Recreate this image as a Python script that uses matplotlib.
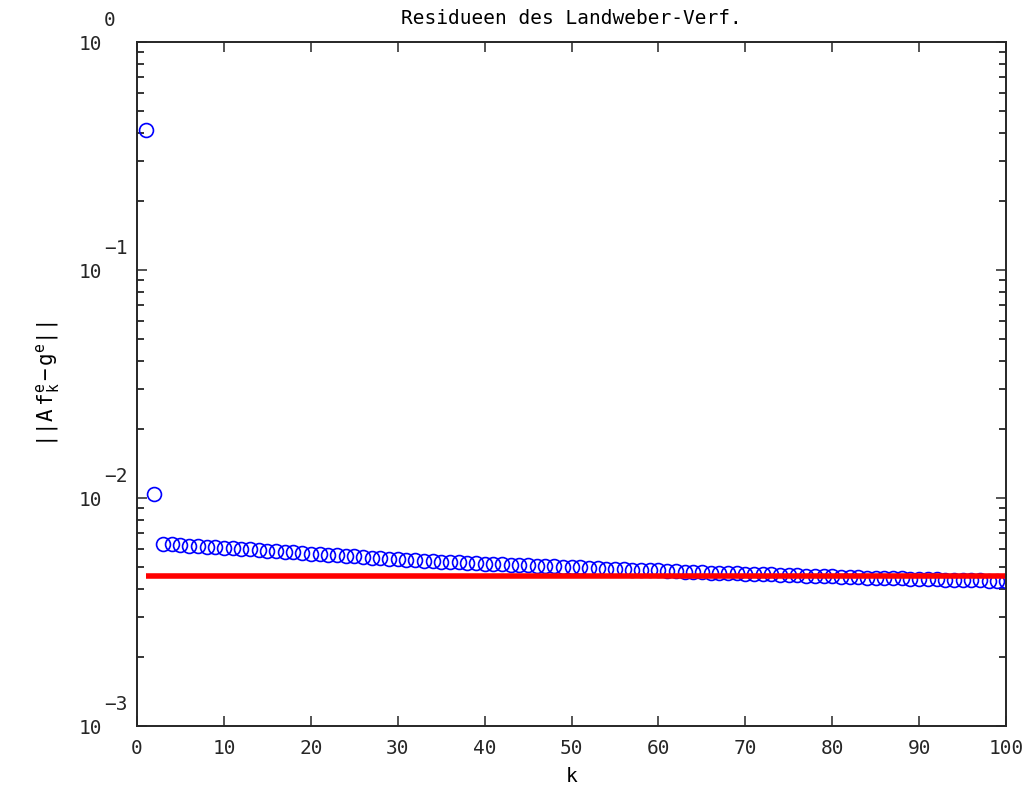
import matplotlib
matplotlib.use('Agg')
import matplotlib.pyplot as plt
from matplotlib.ticker import LogLocator, NullFormatter, FixedLocator

# residual of Landweber iteration, k = 1..100
k = list(range(1, 101))
residual = [
    0.41, 0.0104, 0.00629, 0.00626, 0.00623, 0.00619, 0.00616, 0.00612, 0.00609, 0.00605,
    0.00602, 0.00598, 0.00595, 0.00591, 0.00588, 0.00584, 0.00581, 0.00577, 0.00574, 0.00571,
    0.00567, 0.00564, 0.00561, 0.00558, 0.00555, 0.00551, 0.00548, 0.00545, 0.00542, 0.00539,
    0.00536, 0.00533, 0.00530, 0.00528, 0.00526, 0.00524, 0.00522, 0.00520, 0.00518, 0.00516,
    0.00514, 0.00512, 0.00510, 0.00508, 0.00506, 0.00505, 0.00503, 0.00501, 0.00499, 0.00497,
    0.00496, 0.00494, 0.00492, 0.00490, 0.00489, 0.00487, 0.00485, 0.00484, 0.00482, 0.00481,
    0.00479, 0.00477, 0.00476, 0.00474, 0.00473, 0.00471, 0.00470, 0.00469, 0.00467, 0.00466,
    0.00465, 0.00463, 0.00462, 0.00461, 0.00459, 0.00458, 0.00457, 0.00456, 0.00454, 0.00453,
    0.00452, 0.00451, 0.00450, 0.00448, 0.00447, 0.00446, 0.00445, 0.00444, 0.00443, 0.00442,
    0.00441, 0.00440, 0.00439, 0.00438, 0.00437, 0.00436, 0.00435, 0.00434, 0.00433, 0.00432,
]
# noise level line
noise_k = [1, 100]
noise_level = [0.00455, 0.00455]

xticks = [0, 10, 20, 30, 40, 50, 60, 70, 80, 90, 100]
yticks = [1e-3, 1e-2, 1e-1, 1e0]
yexps = ['\u22123', '\u22122', '\u22121', '0']

FONT = 'DejaVu Sans Mono'
plt.rcParams['font.family'] = [FONT]
plt.rcParams['mathtext.fontset'] = 'custom'
plt.rcParams['mathtext.rm'] = FONT
plt.rcParams['mathtext.it'] = FONT

fig = plt.figure(figsize=(10.25, 7.9), dpi=100)
ax = fig.add_axes([0.1337, 0.0810, 0.8478, 0.8658])

ax.plot(k, residual, linestyle='none', marker='o', markersize=10,
        markerfacecolor='none', markeredgecolor='#0000ff', markeredgewidth=1.2)
ax.plot(noise_k, noise_level, color='#ff0000', linewidth=4, solid_capstyle='butt')

ax.set_yscale('log')
ax.set_xlim(0, 100)
ax.set_ylim(1e-3, 1e0)

ax.xaxis.set_major_locator(FixedLocator(xticks))
ax.set_xticklabels([str(t) for t in xticks])
ax.yaxis.set_major_locator(FixedLocator(yticks))
ax.set_yticklabels(['10'] * len(yticks))
ax.yaxis.set_minor_locator(LogLocator(base=10, subs=range(2, 10), numticks=20))
ax.yaxis.set_minor_formatter(NullFormatter())

ax.tick_params(axis='both', which='major', direction='in', length=7, width=1.1,
               top=True, right=True, labelsize=14, colors='#262626')
ax.tick_params(axis='y', which='minor', direction='in', length=5, width=1.1,
               left=True, right=True)
ax.tick_params(axis='y', which='major', pad=25)
ax.tick_params(axis='x', which='major', pad=9)

for y, e in zip(yticks, yexps):
    ax.annotate(e, xy=(0, y), xycoords=('axes fraction', 'data'),
                xytext=(-33, 22), textcoords='offset pixels',
                ha='left', va='center', fontsize=14, color='#262626',
                annotation_clip=False)

for s in ax.spines.values():
    s.set_linewidth(1.4)
    s.set_color('#262626')

ax.set_title('Residueen des Landweber-Verf.', fontsize=14, pad=13)
ax.set_xlabel('k', fontsize=14, labelpad=7)
ax.set_ylabel(r'$\mathrm{||A\ f_k^{e}-g^{e}||}$', fontsize=15, labelpad=12)

fig.savefig('out.png', dpi=100)
